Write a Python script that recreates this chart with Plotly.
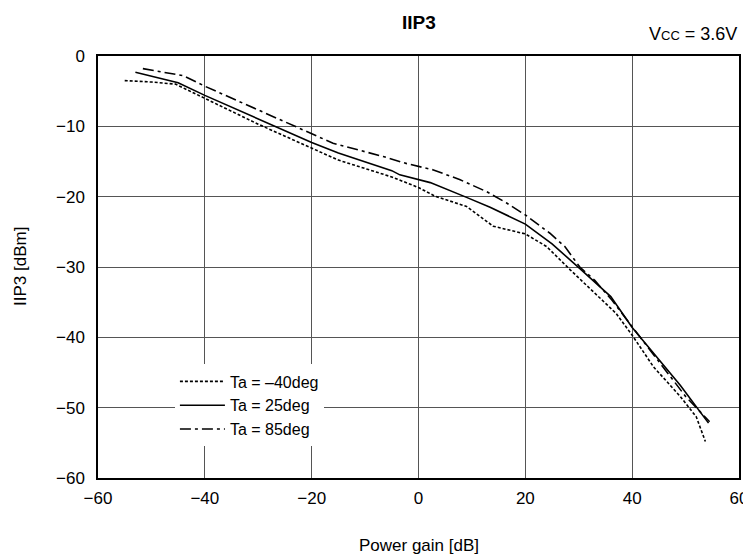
import plotly.graph_objects as go

# Ta = -40deg (dashed)
x_m40 = [-55, -50, -45.5, -40, -35, -30, -25, -20, -15, -10, -5, 0, 3, 9, 11.5, 14, 20, 24, 28.4, 32.7, 37, 40, 44, 49, 52, 53.7]
y_m40 = [-3.5, -3.7, -4.0, -6.0, -7.9, -9.7, -11.4, -13.1, -14.8, -16.0, -17.2, -18.7, -19.9, -21.4, -22.8, -24.2, -25.3, -27.1, -30.4, -33.5, -36.6, -39.7, -44.2, -48.4, -51.3, -54.8]

# Ta = 25deg (solid)
x_25 = [-53, -45, -40, -35, -30, -25, -20, -15, -10, -5, -3.5, 2.2, 9, 13.4, 20, 25, 30, 36, 40, 45, 49, 54.3]
y_25 = [-2.3, -3.8, -5.6, -7.3, -9.0, -10.7, -12.3, -13.8, -15.0, -16.3, -16.9, -18.0, -20.1, -21.5, -23.9, -26.7, -30.1, -34.2, -38.6, -43.2, -46.8, -52.2]

# Ta = 85deg (dash-dot)
x_85 = [-51.6, -44, -40, -35, -30, -25, -20, -16, -6.6, -2.2, 2.8, 7.8, 12.8, 16.5, 20, 24.6, 27.4, 30.2, 33, 36.2, 39.3, 45, 50, 54.5]
y_85 = [-1.8, -2.8, -4.3, -6.0, -7.7, -9.3, -11.0, -12.4, -14.3, -15.3, -16.2, -17.6, -19.3, -20.9, -22.6, -25.2, -27.1, -30.0, -31.9, -34.7, -37.8, -43.4, -48.4, -52.0]

names = ["Ta = \u201340deg", "Ta = 25deg", "Ta = 85deg"]
x_ticks = [-60, -40, -20, 0, 20, 40, 60]
y_ticks = [0, -10, -20, -30, -40, -50, -60]

FONT = "Liberation Sans, Arial, sans-serif"

fig = go.Figure()
fig.add_trace(go.Scatter(x=x_m40, y=y_m40, mode="lines", name=names[0],
                         line=dict(color="black", width=1.6, dash="3px,2px")))
fig.add_trace(go.Scatter(x=x_25, y=y_25, mode="lines", name=names[1],
                         line=dict(color="black", width=1.6)))
fig.add_trace(go.Scatter(x=x_85, y=y_85, mode="lines", name=names[2],
                         line=dict(color="black", width=1.6, dash="11px,4px,3px,4px")))

# page body has an 8px margin, so the figure is sized/offset to compensate
fig.update_layout(
    width=743, height=551,
    margin=dict(l=90, r=12, t=48, b=81, autoexpand=False),
    paper_bgcolor="white", plot_bgcolor="white",
    font=dict(family=FONT, size=17, color="black"),
    showlegend=True,
    legend=dict(x=0.12, y=0.269, xanchor="left", yanchor="top", bgcolor="white",
                borderwidth=0, font=dict(size=16), tracegroupgap=0, itemwidth=45),
    annotations=[
        dict(text="<b>IIP3</b>", xref="paper", yref="paper", x=0.5, y=1.0, yshift=34,
             xanchor="center", yanchor="middle", showarrow=False, font=dict(size=19)),
        dict(text="V<span style='font-size:13px'>CC</span> = 3.6V", xref="paper", yref="paper",
             x=1.0, y=1.0, yshift=22, xanchor="right", yanchor="middle", showarrow=False,
             font=dict(size=18)),
        dict(text="IIP3 [dBm]", xref="paper", yref="paper", x=0, y=0.5, xshift=-78,
             xanchor="center", yanchor="middle", textangle=-90, showarrow=False,
             font=dict(size=17)),
        dict(text="Power gain [dB]", xref="paper", yref="paper", x=0.5, y=0, yshift=-67,
             xanchor="center", yanchor="middle", showarrow=False, font=dict(size=17)),
    ],
)
fig.update_xaxes(range=[-60, 60], tickvals=x_ticks, showgrid=True, gridcolor="#555", gridwidth=1,
                 showline=True, linecolor="black", linewidth=1.5, mirror=True, zeroline=False,
                 ticks="", ticklabelstandoff=4, automargin=False)
fig.update_yaxes(range=[-60, 0], tickvals=y_ticks, showgrid=True, gridcolor="#555", gridwidth=1,
                 showline=True, linecolor="black", linewidth=1.5, mirror=True, zeroline=False,
                 ticks="", ticklabelstandoff=8, automargin=False)

fig.write_html("out.html")
